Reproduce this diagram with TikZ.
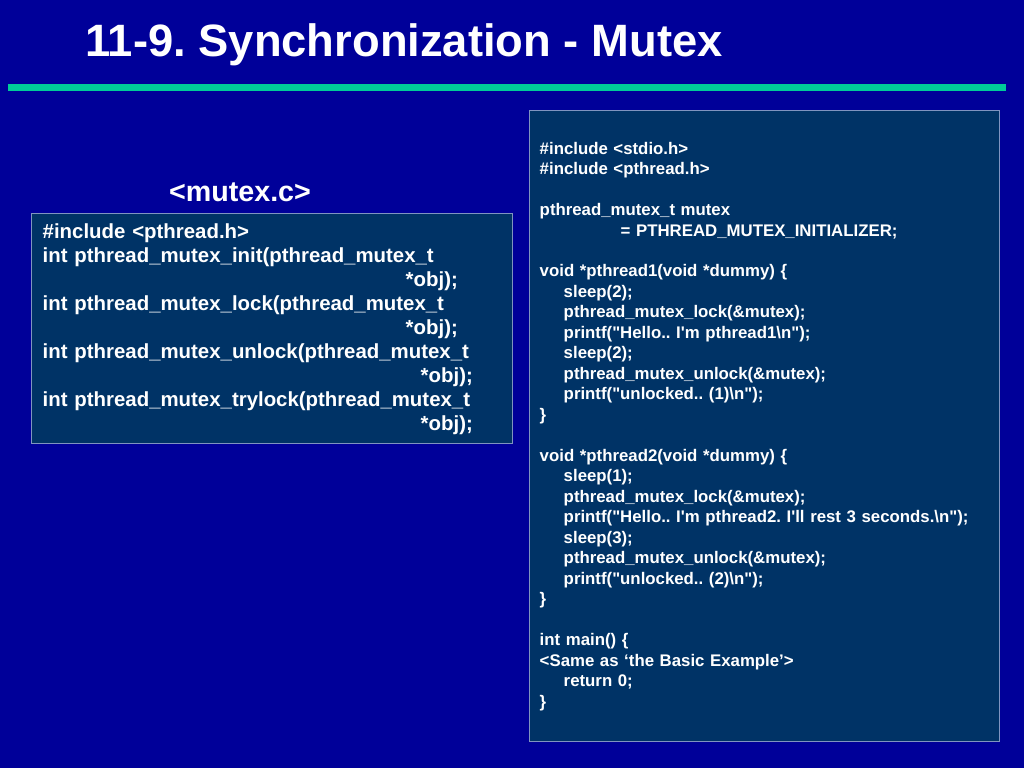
\documentclass[tikz,border=0pt]{standalone}
\usepackage{fontspec}
\setmainfont{Liberation Sans}
\usetikzlibrary{positioning}
\definecolor{slidebg}{RGB}{0,0,153}
\definecolor{boxfill}{RGB}{0,51,102}
\definecolor{boxline}{RGB}{128,148,192}
\definecolor{rulecol}{RGB}{0,204,153}
\newcommand{\dq}{\textquotedbl}
\frenchspacing

\begin{document}
\begin{tikzpicture}[x=0.75pt,y=-0.75pt,
    codebox/.style={draw=boxline, line width=1.1pt, fill=boxfill, text=white,
        align=left, anchor=north west}]

    \fill[slidebg] (0,0) rectangle (1024,768);
    \useasboundingbox (0,0) rectangle (1024,768);

    \node[anchor=base west, inner sep=0pt, text=white,
        font=\bfseries\fontsize{34}{40}\selectfont] at (85,56) (title)
        {11-9. Synchronization - Mutex};
    \fill[rulecol] (8,84) rectangle (1006,91);

    \node[text=white, font=\bfseries\fontsize{21.5}{26}\selectfont] at (240,192) (srcname)
        {<mutex.c>};

    \node[codebox, inner xsep=8.25pt, text width=344.25pt, minimum height=172.5pt,
        font=\bfseries\fontsize{15.3}{18}\selectfont] at (31,213) (api) {%
        \#include <pthread.h>\\
        int pthread\_mutex\_init(pthread\_mutex\_t\\
        \hspace*{272.25pt}*obj);\\
        int pthread\_mutex\_lock(pthread\_mutex\_t\\
        \hspace*{272.25pt}*obj);\\
        int pthread\_mutex\_unlock(pthread\_mutex\_t\\
        \hspace*{283.5pt}*obj);\\
        int pthread\_mutex\_trylock(pthread\_mutex\_t\\
        \hspace*{283.5pt}*obj);};

    \node[codebox, inner xsep=7.5pt, text width=337.5pt, minimum height=473.25pt,
        font=\bfseries\fontsize{12.6}{15.36}\selectfont] at (529,110) (prog) {%
        \#include <stdio.h>\\
        \#include <pthread.h>\\
        \mbox{}\\
        pthread\_mutex\_t mutex\\
        \hspace*{60.75pt}= PTHREAD\_MUTEX\_INITIALIZER;\\
        \mbox{}\\
        void *pthread1(void *dummy) \{\\
        \hspace*{18pt}sleep(2);\\
        \hspace*{18pt}pthread\_mutex\_lock(\&mutex);\\
        \hspace*{18pt}printf(\dq Hello.. I\textquotesingle m pthread1\textbackslash n\dq);\\
        \hspace*{18pt}sleep(2);\\
        \hspace*{18pt}pthread\_mutex\_unlock(\&mutex);\\
        \hspace*{18pt}printf(\dq unlocked.. (1)\textbackslash n\dq);\\
        \}\\
        \mbox{}\\
        void *pthread2(void *dummy) \{\\
        \hspace*{18pt}sleep(1);\\
        \hspace*{18pt}pthread\_mutex\_lock(\&mutex);\\
        \hspace*{18pt}printf(\dq Hello.. I\textquotesingle m pthread2. I\textquotesingle ll rest 3 seconds.\textbackslash n\dq);\\
        \hspace*{18pt}sleep(3);\\
        \hspace*{18pt}pthread\_mutex\_unlock(\&mutex);\\
        \hspace*{18pt}printf(\dq unlocked.. (2)\textbackslash n\dq);\\
        \}\\
        \mbox{}\\
        int main() \{\\
        <Same as ‘the Basic Example’>\\
        \hspace*{18pt}return 0;\\
        \}};
\end{tikzpicture}
\end{document}
